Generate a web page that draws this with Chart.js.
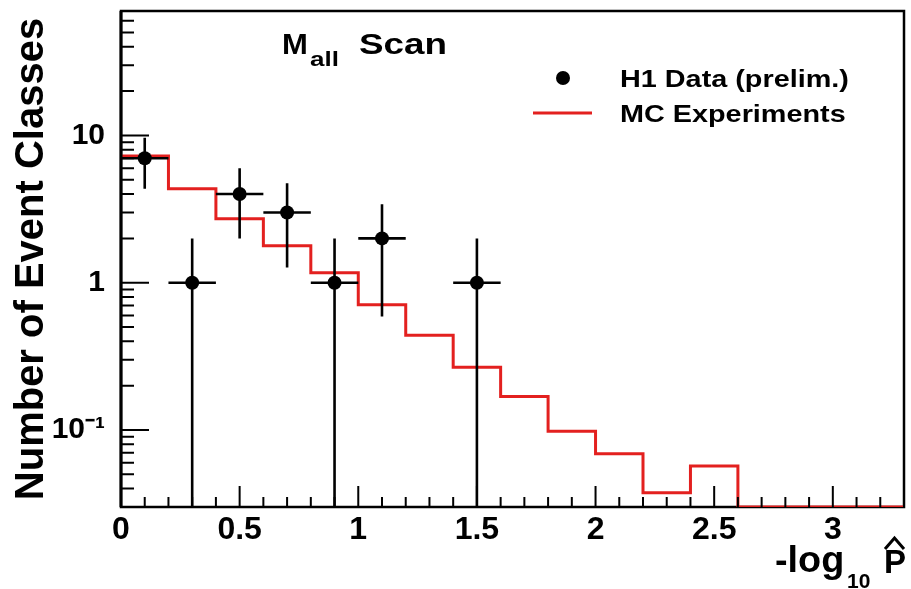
<!DOCTYPE html>
<html>
<head>
<meta charset="utf-8">
<script src="https://cdn.jsdelivr.net/npm/chart.js@4.4.1/dist/chart.umd.min.js"></script>
<style>
  html, body { margin: 0; padding: 0; background: #fff; }
  #wrap { width: 911px; height: 589px; }
</style>
</head>
<body>
<div id="wrap"><canvas id="scanChart" width="911" height="589"></canvas></div>
<script>
// H1 data: bin centres, number of event classes, sqrt(N) errors
const dataX = [0.1, 0.3, 0.5, 0.7, 0.9, 1.1, 1.5];
const dataY = [7, 1, 4, 3, 1, 2, 1];
const dataYErr = [2.65, 1, 2, 1.73, 1, 1.41, 1];
const dataXErr = 0.1;

// MC experiments histogram, bins of 0.2
const mcBinEdges = [0, 0.2, 0.4, 0.6, 0.8, 1.0, 1.2, 1.4, 1.6, 1.8, 2.0, 2.2, 2.4, 2.6, 2.8, 3.0, 3.2, 3.4];
const mcValues = [7.26, 4.34, 2.72, 1.78, 1.17, 0.71, 0.44, 0.267, 0.169, 0.098, 0.069, 0.0375, 0.057, 0, 0, 0, 0];

const xTickValues = [0, 0.5, 1, 1.5, 2, 2.5, 3];
const xTickLabels = ['0', '0.5', '1', '1.5', '2', '2.5', '3'];
const yTickValues = [0.1, 1, 10];
const yTickLabels = ['10\u207B\u00B9', '1', '10'];

const yMin = 0.03, yMax = 70;
const FONT = "'Liberation Sans', Arial, sans-serif";
const RED = '#e3201f';

Chart.defaults.font.family = FONT;

function putText(ctx, str, x, y, size, sx) {
  ctx.save();
  ctx.font = `bold ${size}px ${FONT}`;
  ctx.textAlign = 'left';
  ctx.textBaseline = 'alphabetic';
  ctx.fillStyle = '#000';
  ctx.translate(x, y);
  ctx.scale(sx, 1);
  ctx.fillText(str, 0, 0);
  ctx.restore();
}

// frame under the histograms, error bars on the data points
const errorBars = {
  id: 'errorBars',
  beforeDatasetsDraw(chart) {
    const { ctx, chartArea: a } = chart;
    ctx.save();
    ctx.strokeStyle = '#000';
    ctx.lineWidth = 2.5;
    ctx.strokeRect(a.left, a.top, a.width, a.height);
    ctx.restore();
  },
  afterDatasetsDraw(chart) {
    const { ctx, chartArea: a, scales: { x, y } } = chart;
    ctx.save();
    ctx.beginPath();
    ctx.rect(a.left, a.top, a.width, a.height);
    ctx.clip();
    ctx.strokeStyle = '#000';
    ctx.lineWidth = 2.6;
    dataX.forEach((xv, i) => {
      const px = x.getPixelForValue(xv);
      const py = y.getPixelForValue(dataY[i]);
      const lo = dataY[i] - dataYErr[i];
      const pyLo = lo > 0 ? y.getPixelForValue(lo) : a.bottom;
      const pyHi = y.getPixelForValue(dataY[i] + dataYErr[i]);
      ctx.beginPath();
      ctx.moveTo(px, pyLo);
      ctx.lineTo(px, pyHi);
      ctx.moveTo(x.getPixelForValue(xv - dataXErr), py);
      ctx.lineTo(x.getPixelForValue(xv + dataXErr), py);
      ctx.stroke();
    });
    ctx.restore();
  }
};

// ROOT style inner ticks, legend and labels
const frameAndText = {
  id: 'frameAndText',
  afterDraw(chart) {
    const { ctx, chartArea: a, scales: { x, y } } = chart;
    ctx.save();
    ctx.strokeStyle = '#000';
    ctx.lineWidth = 2;
    ctx.beginPath();
    for (let k = 0; k <= 33; k++) {
      const px = x.getPixelForValue(k / 10);
      const len = k % 5 === 0 ? 21 : 10;
      ctx.moveTo(px, a.bottom);
      ctx.lineTo(px, a.bottom - len);
    }
    for (let e = -2; e <= 1; e++) {
      for (let m = 1; m <= 9; m++) {
        const v = m * Math.pow(10, e);
        if (v < yMin * 1.001 || v > yMax * 0.999) continue;
        const py = y.getPixelForValue(v);
        ctx.moveTo(a.left, py);
        ctx.lineTo(a.left + (m === 1 ? 28 : 13), py);
      }
    }
    ctx.stroke();
    ctx.lineWidth = 3;
    ctx.beginPath();
    ctx.moveTo(a.left, a.top);
    ctx.lineTo(a.left, a.bottom);
    ctx.stroke();

    // legend
    ctx.fillStyle = '#000';
    ctx.beginPath();
    ctx.arc(563, 78, 7, 0, Math.PI * 2);
    ctx.fill();
    ctx.strokeStyle = RED;
    ctx.lineWidth = 3;
    ctx.beginPath();
    ctx.moveTo(533, 113);
    ctx.lineTo(592, 113);
    ctx.stroke();
    putText(ctx, chart.data.datasets[0].label, 620, 87, 24, 1.2);
    putText(ctx, chart.data.datasets[1].label, 620, 122, 24, 1.2);

    // M_all Scan
    putText(ctx, 'M', 282, 54, 29, 1.07);
    putText(ctx, 'all', 310, 66, 20, 1.3);
    putText(ctx, 'Scan', 359, 54, 29, 1.27);

    // x axis title: -log10 P-hat
    putText(ctx, '-log', 775, 572, 36, 1.05);
    putText(ctx, '10', 847, 588, 21, 1);
    putText(ctx, 'P', 884, 573, 33, 1);
    ctx.strokeStyle = '#000';
    ctx.lineWidth = 3;
    ctx.beginPath();
    ctx.moveTo(885, 549);
    ctx.lineTo(894.5, 538);
    ctx.lineTo(904, 549);
    ctx.stroke();
    ctx.restore();
  }
};

const points = dataX.map((v, i) => ({ x: v, y: dataY[i] }));
const mcStep = mcBinEdges.map((e, i) => {
  const v = mcValues[Math.min(i, mcValues.length - 1)];
  return { x: e, y: v > 0 ? v : yMin };
});

new Chart(document.getElementById('scanChart'), {
  type: 'line',
  data: {
    datasets: [
      {
        label: 'H1 Data (prelim.)',
        data: points,
        showLine: false,
        pointRadius: 7,
        pointBackgroundColor: '#000',
        pointBorderWidth: 0
      },
      {
        label: 'MC Experiments',
        data: mcStep,
        stepped: 'before',
        borderColor: RED,
        borderWidth: 3,
        pointRadius: 0,
        fill: false
      }
    ]
  },
  options: {
    responsive: false,
    animation: false,
    devicePixelRatio: 1,
    layout: { padding: { top: 11, right: 1, left: 0, bottom: 0 } },
    plugins: { legend: { display: false }, tooltip: { enabled: false } },
    scales: {
      x: {
        type: 'linear',
        min: 0,
        max: 3.3,
        grid: { display: false, drawTicks: false },
        border: { display: false },
        afterBuildTicks: axis => { axis.ticks = xTickValues.map(v => ({ value: v })); },
        afterFit: axis => {
          axis.height = 82;
          axis.paddingLeft = 0;
          axis.paddingRight = 0;
        },
        ticks: {
          autoSkip: false,
          maxRotation: 0,
          padding: 4,
          color: '#000',
          font: { size: 32, weight: 'bold' },
          callback: (v, i) => xTickLabels[i]
        }
      },
      y: {
        type: 'logarithmic',
        min: yMin,
        max: yMax,
        grid: { display: false, drawTicks: false },
        border: { display: false },
        afterBuildTicks: axis => { axis.ticks = yTickValues.map(v => ({ value: v })); },
        afterFit: axis => {
          axis.width = 121;
          axis.paddingTop = 0;
          axis.paddingBottom = 0;
        },
        ticks: {
          autoSkip: false,
          padding: 16,
          color: '#000',
          font: { size: 30, weight: 'bold' },
          callback: (v, i) => yTickLabels[i]
        },
        title: {
          display: true,
          text: 'Number of Event Classes',
          color: '#000',
          font: { size: 40, weight: 'bold' },
          padding: { top: 8, bottom: 0 }
        }
      }
    }
  },
  plugins: [errorBars, frameAndText]
});
</script>
</body>
</html>
